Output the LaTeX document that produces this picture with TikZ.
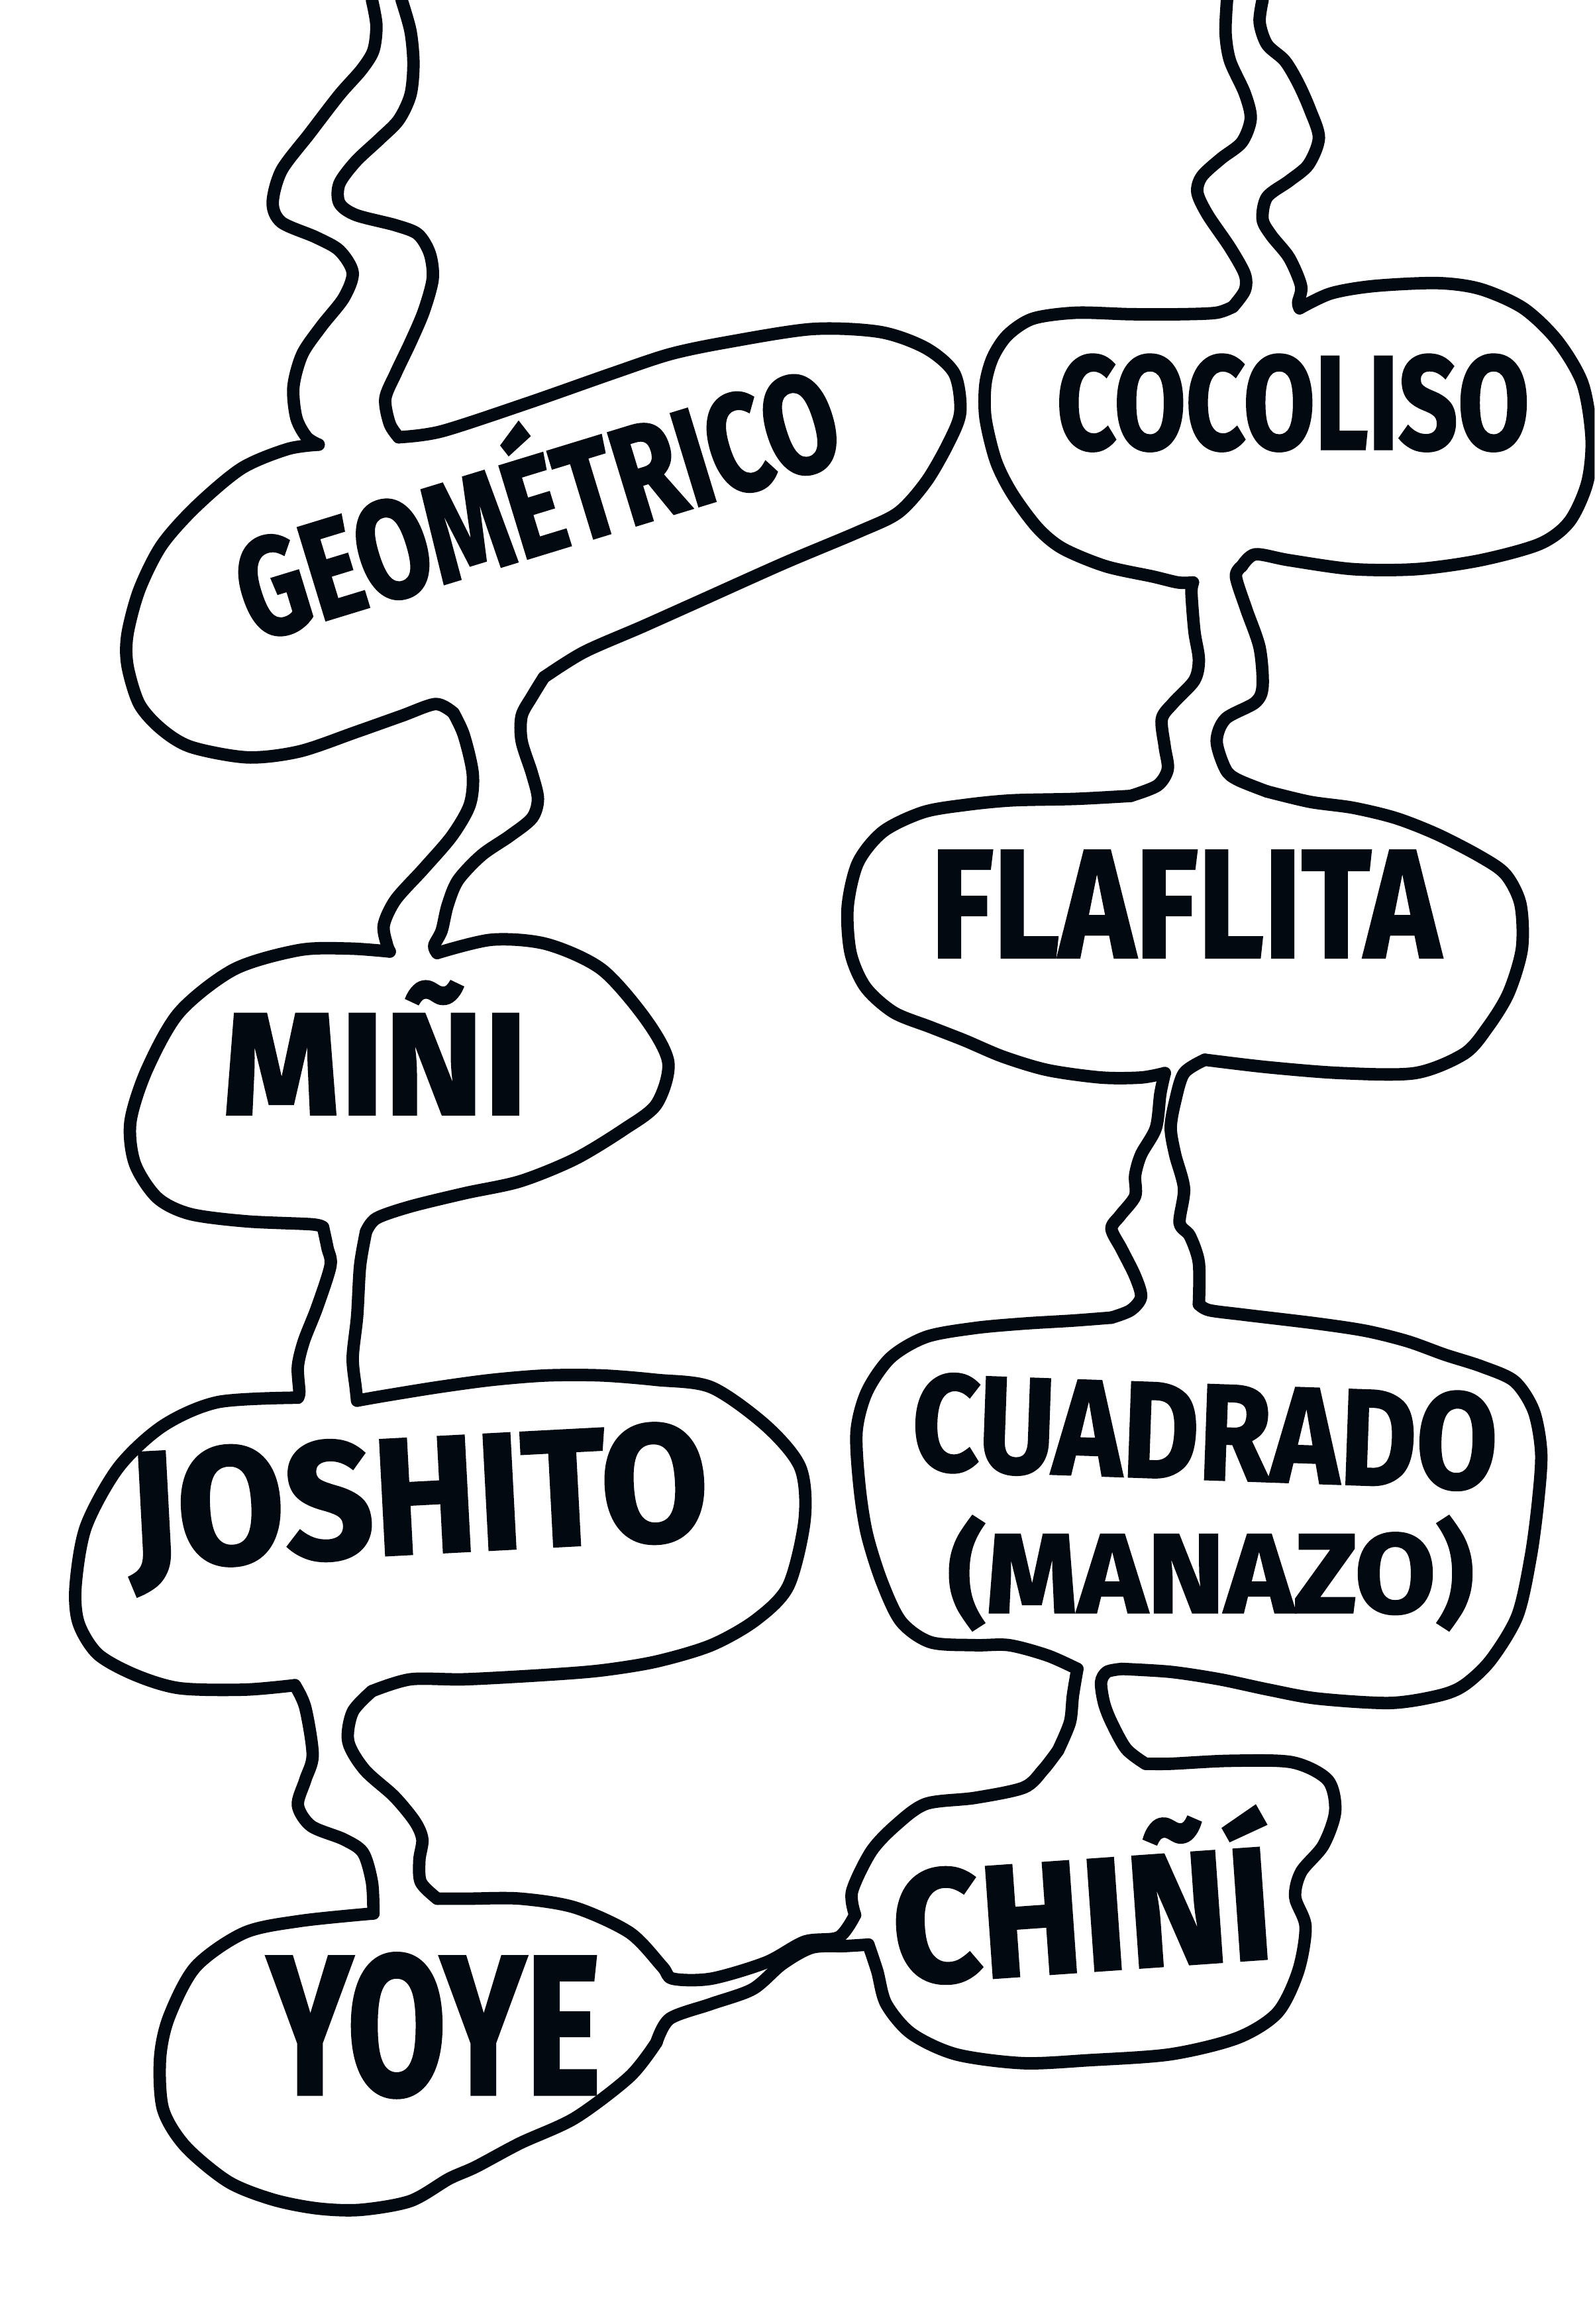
\documentclass[tikz,border=0pt]{standalone}
\usepackage{fontspec}
\usepackage{graphicx}
\IfFontExistsTF{Fira Sans Heavy}{\newfontfamily\hand{Fira Sans Heavy}[FakeBold=1.2]\def\hb{}}{\newfontfamily\hand{Fira Sans}[BoldFeatures={FakeBold=1.6}]\def\hb{\bfseries}}
\definecolor{ink}{RGB}{3,9,16}
\begin{document}
\begin{tikzpicture}[x=0.5pt,y=-0.5pt,
  ln/.style={draw=ink,line width=4.2pt,line cap=round,line join=round},
  wd/.style={text=ink,inner sep=0pt,outer sep=0pt,anchor=base,font=\hand\hb}]
\fill[white] (0,0) rectangle (1076,1568);
\useasboundingbox (0,0) rectangle (1076,1568);
\clip (0,0) rectangle (1076,1568);
% ---------------- outer line ----------------
\draw[ln] plot[smooth] coordinates {(251,0) (254,17) (252,34) (244,47) (229,64) (209,90) (190,115) (184,137) (190,150) (213,160) (229,169) (238,184) (232,201) (217,220) (204,239) (198,261) (200,282) (207,295) (215,300)};
\draw[ln] plot[smooth] coordinates {(215,300) (194,303) (163,316) (132,342) (109,368) (94,398) (86,428) (86,449) (94,475) (109,492) (129,504) (167,511) (202,507) (240,494) (271,483) (294,475) (306,481)};
\draw[ln] plot[smooth] coordinates {(306,481) (313,496) (319,522) (317,543) (305,564) (286,586) (267,607) (259,624) (261,637) (263,642)};
\draw[ln] plot[smooth] coordinates {(263,642) (236,640) (202,641) (158,654) (121,683) (99,722) (88,757) (91,785) (106,808) (128,819) (166,824) (210,826) (218,828)};
\draw[ln] plot[smooth] coordinates {(218,828) (221,842) (223,854) (214,882) (205,905) (201,922) (202,939) (201,943)};
\draw[ln] plot[smooth] coordinates {(201,943) (147,946) (110,962) (80,990) (58,1030) (51,1070) (53,1095) (66,1116) (91,1130) (121,1139) (165,1140) (199,1137)};
\draw[ln] plot[smooth] coordinates {(199,1137) (206,1152) (211,1184) (206,1201) (201,1218) (210,1232) (232,1241) (245,1250) (251,1270) (252,1291)};
\draw[ln] plot[smooth] coordinates {(252,1291) (203,1296) (165,1304) (132,1327) (114,1361) (108,1389) (110,1423) (125,1448) (154,1472) (184,1484) (214,1490) (243,1491) (277,1485) (303,1470) (321,1462) (351,1446) (388,1429) (425,1401) (443,1378)};
\draw[ln] plot[smooth] coordinates {(443,1378) (452,1362) (480,1352) (508,1342) (528,1325) (548,1314) (570,1313) (586,1312)};
\draw[ln] plot[smooth] coordinates {(586,1312) (592,1330) (598,1352) (615,1372) (645,1386) (690,1392) (735,1390) (790,1386) (835,1375) (862,1358) (876,1330) (881,1300) (874,1280) (878,1263) (893,1245) (901,1222) (896,1201) (872,1189) (830,1188) (790,1190) (773,1190)};
\draw[ln] plot[smooth] coordinates {(773,1190) (760,1180) (750,1162) (745,1149) (743,1135) (747,1128) (757,1126)};
\draw[ln] plot[smooth] coordinates {(757,1126) (790,1128) (823,1133) (856,1140) (889,1146) (938,1149) (971,1144) (988,1137) (1006,1120) (1024,1090) (1033,1050) (1038,1012) (1040,980) (1035,952) (1022,932) (1000,922) (975,914) (950,905) (922,898) (889,893) (839,887) (816,884) (809,880)};
\draw[ln] plot[smooth] coordinates {(809,880) (809,852) (803,834) (796,825) (799,802) (793,779) (790,761) (793,743) (799,724) (813,715)};
\draw[ln] plot[smooth] coordinates {(813,715) (855,720) (905,724) (955,724) (988,711) (1004,693) (1018,670) (1027,640) (1026,610) (1016,590) (999,578) (970,563) (942,552) (913,545) (884,541) (855,534)};
\draw[ln] plot[smooth] coordinates {(855,534) (835,526) (827,519) (821,500) (827,485) (847,474) (852,463) (850,437) (841,411) (834,389) (838,382)};
\draw[ln] plot[smooth] coordinates {(838,382) (847,374) (870,378) (913,384) (956,384) (999,378) (1039,367) (1059,352) (1071,326) (1074,296) (1068,259) (1051,230) (1028,208) (999,195) (970,191) (927,193) (898,198) (877,208)};
\draw[ln] plot[smooth] coordinates {(877,208) (876,204) (878,193) (870,174) (858,159) (852,148) (855,133) (870,122) (883,111) (890,93) (884,74) (876,56) (867,41) (855,30) (850,15) (852,0)};
% ---------------- inner line ----------------
\draw[ln] plot[smooth] coordinates {(271,0) (277,21) (279,43) (277,64) (269,81) (256,94) (240,109) (229,124) (229,137) (240,145) (267,152) (282,158) (290,171) (292,188) (286,210) (277,231) (267,252) (260,269) (263,286) (269,295)};
\draw[ln] plot[smooth] coordinates {(269,295) (298,291) (356,272) (413,252) (452,239) (490,231) (548,222) (594,224) (625,235) (644,252) (648,278) (640,299) (625,325) (606,346) (579,359) (529,380) (471,406) (433,423) (394,440) (367,457)};
\draw[ln] plot[smooth] coordinates {(367,457) (359,470) (352,483) (352,500) (359,522) (363,539) (359,552) (344,564) (325,577) (309,594) (302,611) (298,628) (293,638) (295,643)};
\draw[ln] plot[smooth] coordinates {(295,643) (332,634) (369,637) (406,654) (436,688) (451,717) (443,745) (421,762) (388,782) (351,797) (314,805) (277,814) (254,822) (247,831)};
\draw[ln] plot[smooth] coordinates {(247,831) (243,854) (241,888) (238,916) (240,936) (241,945)};
\draw[ln] plot[smooth] coordinates {(241,945) (258,942) (295,936) (332,931) (369,928) (406,928) (443,931) (480,936) (517,962) (540,990) (543,1025) (532,1070) (510,1093) (480,1110) (443,1121) (406,1127) (369,1130) (314,1133) (277,1133) (251,1141)};
\draw[ln] plot[smooth] coordinates {(251,1141) (238,1155) (235,1175) (246,1194) (266,1212) (280,1229) (285,1241) (283,1255) (284,1270) (295,1281)};
\draw[ln] plot[smooth] coordinates {(295,1281) (317,1281) (351,1281) (388,1287) (425,1304) (447,1327) (454,1335) (480,1335) (517,1324) (543,1310) (566,1307) (577,1292)};
\draw[ln] plot[smooth] coordinates {(577,1292) (575,1276) (588,1249) (605,1231) (625,1217) (658,1213) (691,1206) (704,1194) (714,1181)};
\draw[ln] plot[smooth] coordinates {(714,1181) (722,1162) (724,1144) (727,1126)};
\draw[ln] plot[smooth] coordinates {(727,1126) (707,1117) (681,1110) (658,1110) (628,1108) (608,1094) (595,1067) (585,1035) (580,1003) (578,966) (585,939) (601,916) (625,902) (658,896) (691,893) (724,891) (750,889)};
\draw[ln] plot[smooth] coordinates {(750,889) (763,884) (770,875) (766,861) (757,843) (750,829) (756,820) (766,807) (766,793) (770,779) (780,761) (783,738) (786,724)};
\draw[ln] plot[smooth] coordinates {(786,724) (770,727) (743,727) (707,722) (677,713) (651,702) (628,693) (603,683) (584,666) (574,643) (572,612) (579,582) (596,561) (623,548) (652,543) (683,540) (726,539) (763,537)};
\draw[ln] plot[smooth] coordinates {(763,537) (781,530) (788,519) (786,504) (784,485) (792,474) (806,459) (809,445) (806,426) (804,400) (805,393)};
\draw[ln] plot[smooth] coordinates {(805,393) (795,393) (778,389) (746,382) (717,370) (700,356) (683,333) (672,311) (665,282) (665,259) (670,241) (680,226) (697,215) (726,211) (763,212) (798,212) (821,211) (832,207)};
\draw[ln] plot[smooth] coordinates {(832,207) (840,196) (840,185) (830,167) (815,145) (808,130) (811,119) (824,107) (838,96) (844,80) (840,63) (830,41) (827,22) (828,0)};
% ---------------- words ----------------
\node[wd,rotate=17] (geometrico) at (372,372) {\fontsize{47pt}{47pt}\selectfont\resizebox{210pt}{\height}{GEOMÉTRICO}};
\node[wd] (cocoliso) at (872.5,303) {\fontsize{45pt}{45pt}\selectfont\resizebox{159.5pt}{\height}{COCOLISO}};
\node[wd] (flaflita) at (800,646) {\fontsize{52pt}{52pt}\selectfont\resizebox{172pt}{\height}{FLAFLITA}};
\node[wd] (mini) at (253,752) {\fontsize{49pt}{49pt}\selectfont\resizebox{103pt}{\height}{MIÑI}};
\node[wd,rotate=3] (joshito) at (284,1048) {\fontsize{56pt}{56pt}\selectfont\resizebox{196pt}{\height}{JOSHITO}};
\node[wd,rotate=-2] (cuadrado) at (812,998) {\fontsize{46pt}{46pt}\selectfont\resizebox{197.5pt}{\height}{CUADRADO}};
\node[wd] (manazo) at (817,1088) {\fontsize{38pt}{38pt}\selectfont\resizebox{177.5pt}{\height}{(MANAZO)}};
\node[wd] (yoye) at (293,1413) {\fontsize{67pt}{67pt}\selectfont\resizebox{112.5pt}{\height}{YOYE}};
\node[wd,rotate=4] (chini) at (733,1330) {\fontsize{54pt}{54pt}\selectfont\resizebox{128.5pt}{\height}{CHIÑÍ}};
\end{tikzpicture}
\end{document}
